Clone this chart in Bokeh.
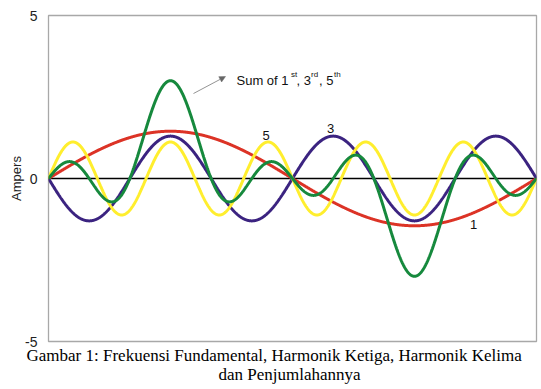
import numpy as np
from bokeh.plotting import figure
from bokeh.models import Label, Arrow, NormalHead, FixedTicker, Range1d, Title
from bokeh.embed import file_html
from bokeh.resources import INLINE

# ---- data ----
harmonic_order = [1, 3, 5]
harmonic_names = ["1", "3", "5"]
# signed amplitudes (sign = starting direction) of the drawn components
component_amplitude = [1.45, -1.30, 1.12]
# amplitudes of the drawn "sum" curve, per harmonic
sum_amplitude = [1.00, -1.00, 1.00]
component_colors = ["#DC3326", "#3B2380", "#FFEE2E"]
sum_color = "#16893D"
y_ticks = [-5, 0, 5]
y_tick_labels = {-5: "-5", 0: "0", 5: "5"}
caption_1 = "Gambar 1: Frekuensi Fundamental, Harmonik Ketiga, Harmonik Kelima"
caption_2 = "dan Penjumlahannya"

W, H = 541, 389
FL, FR, FT, FB = 48, 536, 15, 341
XMIN, XMAX, YMIN, YMAX = 0.0, 360.0, -5.0, 5.0

def px2x(px):
    return XMIN + (px - FL) / (FR - FL) * (XMAX - XMIN)

def px2y(py):
    return YMAX - (py - FT) / (FB - FT) * (YMAX - YMIN)

p = figure(width=W, height=H, x_range=Range1d(XMIN, XMAX), y_range=Range1d(YMIN, YMAX),
           output_backend="svg", toolbar_location=None,
           min_border_left=FL, min_border_right=W - FR, min_border_top=FT, min_border_bottom=H - FB)
p.xaxis.visible = False
p.xgrid.visible = False
p.ygrid.visible = False
p.outline_line_color = "#A8A8A8"
p.outline_line_width = 1.3
p.background_fill_color = "white"
p.border_fill_color = "white"

ax = p.yaxis[0]
ax.ticker = FixedTicker(ticks=y_ticks)
ax.major_label_overrides = y_tick_labels
ax.major_tick_line_color = None
ax.minor_tick_line_color = None
ax.axis_line_color = None
ax.major_label_text_font = "Liberation Sans"
ax.major_label_text_font_size = "14px"
ax.major_label_text_color = "#222222"
ax.major_label_standoff = 5
ax.axis_label = "Ampers"
ax.axis_label_text_font = "Liberation Sans"
ax.axis_label_text_font_size = "13px"
ax.axis_label_text_font_style = "normal"
ax.axis_label_text_color = "#222222"
ax.axis_label_standoff = -2

# zero line
p.line([XMIN, XMAX], [0, 0], line_color="black", line_width=1.5)

theta_deg = np.linspace(XMIN, XMAX, 1441)
theta = np.radians(theta_deg)

# components: fundamental, 3rd, 5th
for n, a, c in zip(harmonic_order, component_amplitude, component_colors):
    p.line(theta_deg, a * np.sin(n * theta), line_color=c, line_width=3)

# drawn sum curve
sum_curve = np.zeros_like(theta)
for n, a in zip(harmonic_order, sum_amplitude):
    sum_curve = sum_curve + a * np.sin(n * theta)
p.line(theta_deg, sum_curve, line_color=sum_color, line_width=3)

def lab(text, px, py, size="13px", align="left", baseline="alphabetic", font="Liberation Sans", color="#111111"):
    p.add_layout(Label(x=px2x(px), y=px2y(py), text=text, text_font=font, text_font_size=size,
                       text_align=align, text_baseline=baseline, text_color=color))

# curve labels
lab(harmonic_names[2], 265.7, 135, align="center", baseline="middle")
lab(harmonic_names[1], 330, 128, align="center", baseline="middle")
lab(harmonic_names[0], 473, 224, align="center", baseline="middle")

# "Sum of 1st, 3rd, 5th"
lab("Sum of 1", 236, 79.5)
lab("st", 290.5, 73.5, size="8px")
lab(", 3", 296, 79.5)
lab("rd", 310.5, 73.5, size="8px")
lab(", 5", 318.5, 79.5)
lab("th", 333.5, 73.5, size="8px")

p.add_layout(Arrow(end=NormalHead(size=6, fill_color="#666666", line_color="#666666", line_width=0.5),
                   x_start=px2x(193), y_start=px2y(93), x_end=px2x(225), y_end=px2y(76),
                   line_color="#777777", line_width=0.8))

# caption below the plot area
t1 = Title(text=caption_1, align="left", offset=-22, standoff=5,
           text_font="Liberation Serif", text_font_size="17px", text_font_style="normal",
           text_color="#000000")
t2 = Title(text=caption_2, align="left", offset=170, standoff=-9,
           text_font="Liberation Serif", text_font_size="17px", text_font_style="normal",
           text_color="#000000")
p.add_layout(t1, "below")
p.add_layout(t2, "below")

open("out.html", "w").write(file_html(p, INLINE))
